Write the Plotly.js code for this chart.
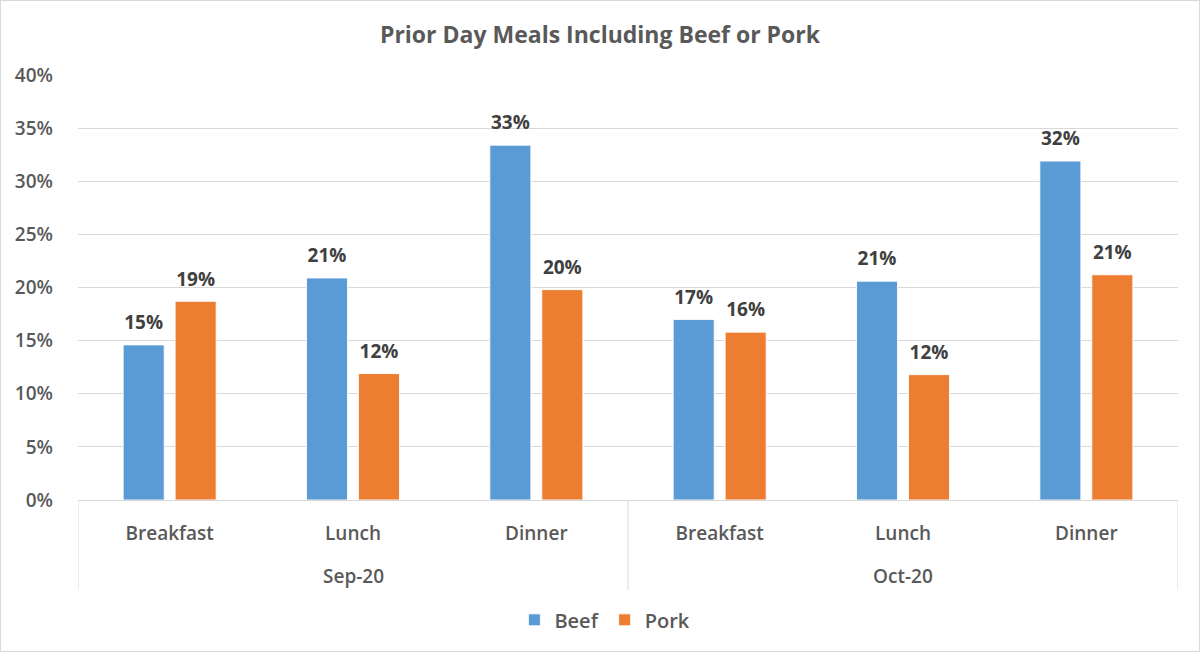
<!DOCTYPE html>
<html>
<head>
<meta charset="utf-8">
<script src="https://cdn.plot.ly/plotly-3.0.1.min.js"></script>
<style>
html,body{margin:0;padding:0;background:#fff;}
#wrap{position:absolute;left:0;top:0;width:1198px;height:650px;border:1px solid #d9d9d9;}
#chart{width:1198px;height:650px;}
</style>
</head>
<body>
<div id="wrap"><div id="chart"></div></div>
<script>
var months = ["Sep-20","Sep-20","Sep-20","Oct-20","Oct-20","Oct-20"];
var meals = ["Breakfast","Lunch","Dinner","Breakfast","Lunch","Dinner"];
var beef = [0.146, 0.209, 0.334, 0.170, 0.206, 0.319];
var pork = [0.187, 0.119, 0.198, 0.158, 0.118, 0.212];
var yTicks = [0,0.05,0.10,0.15,0.20,0.25,0.30,0.35,0.40];
var yTickText = ["0%","5%","10%","15%","20%","25%","30%","35%","40%"];

var font = "'Open Sans', Lato, sans-serif";
var lbl = {family: font, size: 19, color: "#404040", weight: 700};
var GAP = 0.433;
var idx = meals.map(function(_, i){ return i; });

function barTrace(name, vals, color) {
  return {type:"bar", name:name, x:idx, y:vals, offsetgroup:name,
    marker:{color:color, line:{color:"rgba(255,255,255,0.9)", width:1}}, hoverinfo:"none"};
}
function labelTrace(name, vals) {
  return {type:"scatter", mode:"markers+text", name:name+" label", x:idx, y:vals,
    offsetgroup:name, showlegend:false, cliponaxis:false, hoverinfo:"none",
    marker:{size:16, opacity:0}, texttemplate:"%{y:.0%}", textposition:"top center", textfont:lbl};
}

var traces = [
  barTrace("Beef", beef, "#5b9bd5"),
  barTrace("Pork", pork, "#ed7d31"),
  labelTrace("Beef", beef),
  labelTrace("Pork", pork)
];

// group labels and dividers derived from the month array
var groups = [];
months.forEach(function(m, i){
  var g = groups[groups.length-1];
  if (!g || g.name !== m) groups.push({name:m, first:i, last:i});
  else g.last = i;
});
var annotations = groups.map(function(g){
  return {xref:"x", yref:"paper", x:(g.first+g.last)/2, y:-0.179, text:g.name, showarrow:false,
          xanchor:"center", yanchor:"middle", font:{family:font, size:19, color:"#595959", weight:600}};
});
var bounds = [groups[0].first - 0.5].concat(groups.map(function(g){ return g.last + 0.5; }));
var shapes = bounds.map(function(b){
  return {type:"line", xref:"x", yref:"paper", x0:b, x1:b, y0:0, y1:-0.212,
          line:{color:"#d9d9d9", width:1}};
});

var layout = {
  width:1198, height:650,
  margin:{l:77, r:21, t:74, b:151},
  paper_bgcolor:"#fff", plot_bgcolor:"#fff",
  title:{text:"Prior Day Meals Including Beef or Pork", x:0.5, xanchor:"center", y:0.948, yanchor:"middle",
         font:{family:font, size:23, color:"#595959", weight:700}},
  barmode:"group", bargap:GAP, bargroupgap:0.21,
  scattermode:"group", scattergap:GAP,
  showlegend:true,
  legend:{orientation:"h", x:0.479, xanchor:"center", y:-0.282, yanchor:"middle",
          font:{family:font, size:20, color:"#595959", weight:600}, itemwidth:30, traceorder:"normal"},
  xaxis:{type:"linear", range:[-0.5, meals.length-0.5], tickvals:idx, ticktext:meals,
         showline:true, linecolor:"#d9d9d9", linewidth:1, ticklabelstandoff:16,
         tickfont:{family:font, size:19, color:"#595959", weight:600},
         ticks:"", showgrid:false, zeroline:false},
  yaxis:{range:[0,0.40], tickvals:yTicks, ticktext:yTickText, showgrid:true, gridcolor:"#d9d9d9",
         gridwidth:1, zeroline:false, showline:false, ticks:"", ticklabelstandoff:24,
         tickfont:{family:font, size:19, color:"#595959", weight:600}},
  annotations:annotations,
  shapes:shapes,
  font:{family:font}
};

Plotly.newPlot("chart", traces, layout, {displayModeBar:false, staticPlot:true});
</script>
</body>
</html>
